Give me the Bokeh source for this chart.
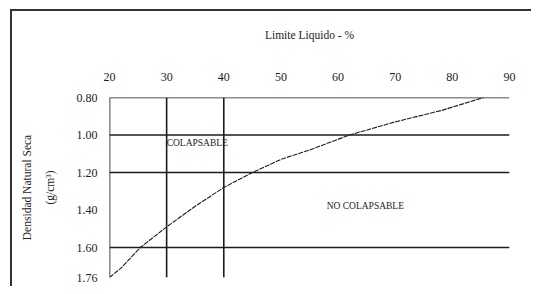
from bokeh.plotting import figure
from bokeh.models import (Range1d, LinearAxis, FixedTicker,
                          ColumnDataSource, CustomJSTickFormatter)
from bokeh.core.properties import value
from bokeh.embed import file_html
from bokeh.resources import INLINE

# ---- data ----
x_ticks = [20, 30, 40, 50, 60, 70, 80, 90]
y_ticks = [0.80, 1.00, 1.20, 1.40, 1.60, 1.76]
h_lines = [0.80, 1.00, 1.20, 1.60]
v_lines = [20, 30, 40]
limite_liquido = [20, 22, 25.4, 30, 35, 40, 45, 50, 55, 62, 70, 78, 85.5]
densidad = [1.76, 1.71, 1.60, 1.49, 1.38, 1.28, 1.20, 1.13, 1.08, 1.00, 0.93, 0.87, 0.80]
zone_labels = ["COLAPSABLE", "NO COLAPSABLE"]
zone_x = [30.0, 58.0]
zone_y = [1.04, 1.376]

FONT = "Liberation Serif"
INK = "#1c1c1c"

p = figure(width=531, height=286, output_backend="svg", toolbar_location=None,
           x_range=Range1d(20, 90), y_range=Range1d(1.76, 0.80),
           x_axis_location=None, y_axis_location=None,
           min_border_left=109, min_border_top=97, min_border_right=22,
           min_border_bottom=9)
p.outline_line_color = None
p.xgrid.visible = False
p.ygrid.visible = False
p.background_fill_color = "white"
p.border_fill_color = None
# outer frame lines (top and left edges of the surrounding box)
p.styles = {
    "background-color": "white",
    "background-image": "linear-gradient(#333333, #333333), linear-gradient(#333333, #333333)",
    "background-size": "100% 2px, 2px 100%",
    "background-position": "10px 9px, 10px 9px",
    "background-repeat": "no-repeat",
}

# top axis
xa = LinearAxis(ticker=FixedTicker(ticks=x_ticks), axis_label="Limite Liquido - %")
# left axes
ya = LinearAxis(ticker=FixedTicker(ticks=y_ticks), axis_label="(g/cm³)",
                formatter=CustomJSTickFormatter(code="return tick.toFixed(2);"))
ya2 = LinearAxis(ticker=FixedTicker(ticks=[]), axis_label="Densidad Natural Seca")
for ax in (xa, ya, ya2):
    ax.axis_line_color = None
    ax.major_tick_line_color = None
    ax.minor_tick_line_color = None
    ax.major_tick_out = 0
    ax.major_tick_in = 0
    ax.minor_tick_out = 0
    ax.major_label_text_font = FONT
    ax.major_label_text_font_size = "12px"
    ax.major_label_text_color = INK
    ax.axis_label_text_font = FONT
    ax.axis_label_text_font_size = "11.5px"
    ax.axis_label_text_font_style = "normal"
    ax.axis_label_text_color = INK
xa.major_label_standoff = 17
xa.axis_label_standoff = 29
ya.major_label_standoff = 12
ya.axis_label_standoff = 18
ya2.major_label_text_font_size = "0px"
ya2.major_label_standoff = 0
ya2.axis_label_standoff = 8
p.add_layout(xa, "above")
p.add_layout(ya, "left")
p.add_layout(ya2, "left")

# grid-like frame lines
p.segment(x0=[20] * len(h_lines), x1=[90] * len(h_lines), y0=h_lines, y1=h_lines,
          line_color=INK, line_width=1.6)
p.segment(x0=v_lines, x1=v_lines, y0=[0.80] * len(v_lines), y1=[1.76] * len(v_lines),
          line_color=INK, line_width=1.6)

# curve
p.line(limite_liquido, densidad, line_color=INK, line_width=1.1, line_dash="5 1")

# zone labels
src = ColumnDataSource(dict(x=zone_x, y=zone_y, t=zone_labels))
p.text(x="x", y="y", text="t", source=src, text_font=value(FONT),
       text_font_size="9.5px", text_align="left", text_baseline="middle",
       text_color=INK)

open("out.html", "w").write(file_html(p, INLINE))
